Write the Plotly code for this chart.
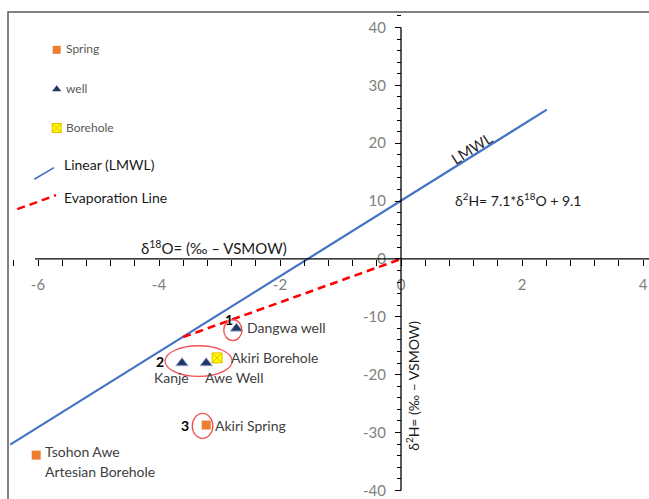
import plotly.graph_objects as go

# ---------------- data ----------------
spring_names = ["Akiri Spring", "Tsohon Awe Artesian Borehole"]
spring_o18 = [-3.22, -6.03]
spring_h2 = [-28.7, -33.9]

well_names = ["Dangwa well", "Kanje", "Awe Well"]
well_o18 = [-2.72, -3.62, -3.22]
well_h2 = [-12.0, -18.0, -18.0]

bore_names = ["Akiri Borehole"]
bore_o18 = [-3.04]
bore_h2 = [-17.1]

lmwl_o18 = [-6.46, 2.41]
lmwl_h2 = [-32.1, 25.8]

evap_o18 = [-3.6, 0.0]
evap_h2 = [-13.5, 0.0]

x_tick_vals = [-6, -4, -2, 0, 2, 4]
x_tick_text = ["-6", "-4", "-2", "0", "2", "4"]
y_tick_vals = [-40, -30, -20, -10, 0, 10, 20, 30, 40]
y_tick_text = ["-40", "-30", "-20", "-10", "0", "10", "20", "30", "40"]

# ---------------- layout constants ----------------
# body margin is removed by the post script, so the figure starts at (0, 0)
PAGE_OFF = 0
W, H = 669, 499
ML, MR, MT, MB = 8, 20, 12, 0
X_RANGE = [-6.496, 4.099]
Y_RANGE = [-41.14, 42.68]
FONT = "Lato, 'Open Sans', sans-serif"
GREY = "#7f7f7f"
TXT = "#404040"

x_axis_pos = (0 - Y_RANGE[0]) / (Y_RANGE[1] - Y_RANGE[0])
y_axis_pos = (0 - X_RANGE[0]) / (X_RANGE[1] - X_RANGE[0])

fig = go.Figure()

# trend lines
fig.add_trace(go.Scatter(x=lmwl_o18, y=lmwl_h2, mode="lines",
                         line=dict(color="#4472C4", width=2.2),
                         name="Linear (LMWL)", hoverinfo="skip"))
fig.add_trace(go.Scatter(x=evap_o18, y=evap_h2, mode="lines",
                         line=dict(color="#FF0000", width=2.6, dash="8px,5px"),
                         name="Evaporation Line", hoverinfo="skip"))

# samples
fig.add_trace(go.Scatter(x=spring_o18, y=spring_h2, mode="markers", name="Spring",
                         marker=dict(symbol="square", size=9, color="#ED7D31"),
                         text=spring_names, cliponaxis=False))
fig.add_trace(go.Scatter(x=well_o18, y=well_h2, mode="markers", name="well",
                         marker=dict(symbol="triangle-up", size=11, color="#1F3864",
                                     line=dict(color="rgba(170,190,225,0.9)", width=1)),
                         text=well_names))
fig.add_trace(go.Scatter(x=bore_o18, y=bore_h2, mode="markers", name="Borehole",
                         marker=dict(symbol="square-x", size=10, color="#FFFF00",
                                     line=dict(color="#E8B800", width=1)),
                         text=bore_names))

# ---------------- legend keys (window-pixel overlay axes) ----------------
fig.add_trace(go.Scatter(x=[56.7], y=[50], mode="markers", xaxis="x2", yaxis="y2",
                         marker=dict(symbol="square", size=8, color="#ED7D31"),
                         showlegend=False, hoverinfo="skip"))
fig.add_trace(go.Scatter(x=[56.7], y=[89.5], mode="markers", xaxis="x2", yaxis="y2",
                         marker=dict(symbol="triangle-up", size=8, color="#1F3864"),
                         showlegend=False, hoverinfo="skip"))
fig.add_trace(go.Scatter(x=[56.7], y=[128.5], mode="markers", xaxis="x2", yaxis="y2",
                         marker=dict(symbol="square-x", size=9, color="#FFFF00",
                                     line=dict(color="#E8B800", width=1)),
                         showlegend=False, hoverinfo="skip"))
fig.add_trace(go.Scatter(x=[34.3, 54], y=[180, 168.3], mode="lines", xaxis="x2", yaxis="y2",
                         line=dict(color="#4472C4", width=1.6),
                         showlegend=False, hoverinfo="skip"))
fig.add_trace(go.Scatter(x=[17.3, 56], y=[210, 196], mode="lines", xaxis="x2", yaxis="y2",
                         line=dict(color="#FF0000", width=2.4, dash="8px,5px"),
                         showlegend=False, hoverinfo="skip"))

legend_txt = [
    ("Spring", 64, 49, 12, "#595959"),
    ("well", 64, 88.5, 12, "#595959"),
    ("Borehole", 64, 127.5, 12, "#595959"),
    ("Linear (LMWL)", 61.5, 165, 14, "#1a1a1a"),
    ("Evaporation Line", 61.5, 198, 14, "#1a1a1a"),
]
annotations = []
for t, px, py, fs, col in legend_txt:
    annotations.append(dict(text=t, x=px, y=py, xref="x2", yref="y2", xanchor="left",
                            yanchor="middle", showarrow=False,
                            font=dict(family=FONT, size=fs, color=col)))

# ---------------- data labels ----------------
def lab(text, x, y, anchor="left", size=14, color=TXT, bold=False):
    if bold:
        text = "<b>" + text + "</b>"
    annotations.append(dict(text=text, x=x, y=y, xref="x", yref="y", xanchor=anchor,
                            yanchor="middle", showarrow=False,
                            font=dict(family=FONT, size=size, color=color)))

lab("1", -2.85, -10.45, "center", 14, "#000000", True)
lab("Dangwa well", -2.58, -11.9)
lab("2", -3.99, -17.7, "center", 14, "#000000", True)
lab("Akiri Borehole", -2.84, -17.1)
lab("Kanje", -3.80, -20.5, "center")
lab("Awe Well", -2.76, -20.5, "center")
lab("3", -3.57, -28.7, "center", 14, "#000000", True)
lab("Akiri Spring", -3.11, -28.7)
lab("Tsohon Awe", -5.91, -33.2)
lab("Artesian Borehole", -5.91, -36.8)

# line / axis texts
annotations.append(dict(text="LMWL", x=1.17, y=19.2, xref="x", yref="y", textangle=-32,
                        showarrow=False, font=dict(family=FONT, size=15, color="#262626")))
annotations.append(dict(text="δ<sup>2</sup>H= 7.1*δ<sup>18</sup>O + 9.1", x=1.94, y=10.3,
                        xref="x", yref="y", showarrow=False,
                        font=dict(family=FONT, size=14, color="#1a1a1a")))
annotations.append(dict(text="δ<sup>18</sup>O= (‰ – VSMOW)", x=-3.09, y=1.9,
                        xref="x", yref="y", showarrow=False,
                        font=dict(family=FONT, size=15, color="#1a1a1a")))
annotations.append(dict(text="δ<sup>2</sup>H= (‰ – VSMOW)", x=0.2, y=-21.9, textangle=-90,
                        xref="x", yref="y", showarrow=False,
                        font=dict(family=FONT, size=14, color="#1a1a1a")))

# ---------------- shapes ----------------
shapes = [
    # chart border
    dict(type="rect", xref="paper", yref="paper", x0=0, x1=1.02, y0=-0.01, y1=1,
         line=dict(color="#595959", width=1.5)),
    # axis lines through the origin
    dict(type="line", xref="x", yref="y", x0=-6.05, x1=4.1, y0=0, y1=0,
         line=dict(color="#000000", width=1.3)),
    dict(type="line", xref="x", yref="y", x0=0, x1=0, y0=-40, y1=40,
         line=dict(color="#000000", width=1.3)),
    # red circles
    dict(type="circle", xref="x", yref="y", x0=-2.93, x1=-2.63, y0=-14.1, y1=-10.5,
         line=dict(color="#F05050", width=1.3)),
    dict(type="circle", xref="x", yref="y", x0=-3.90, x1=-2.79, y0=-20.3, y1=-15.0,
         line=dict(color="#F05050", width=1.3)),
    dict(type="circle", xref="x", yref="y", x0=-3.45, x1=-3.11, y0=-31.0, y1=-26.7,
         line=dict(color="#F05050", width=1.3)),
]

fig.update_layout(
    width=W, height=H,
    margin=dict(l=ML, r=MR, t=MT, b=MB, pad=0),
    paper_bgcolor="white", plot_bgcolor="white",
    showlegend=False, hovermode=False,
    font=dict(family=FONT),
    xaxis=dict(range=X_RANGE, domain=[0, 1], anchor="free", position=x_axis_pos,
               side="bottom", showline=False, zeroline=False, showgrid=False,
               tickmode="array", tickvals=x_tick_vals, ticktext=x_tick_text,
               ticks="outside", ticklen=6, tickwidth=1, tickcolor="#000000",
               ticklabelstandoff=6, ticklabeloverflow="allow",
               tickfont=dict(family=FONT, size=15, color=GREY),
               minor=dict(tickmode="linear", tick0=0, dtick=0.4, ticks="outside",
                          ticklen=6, tickwidth=1, tickcolor="#000000", showgrid=False)),
    yaxis=dict(range=Y_RANGE, domain=[0, 1], anchor="free", position=y_axis_pos,
               side="left", showline=False, zeroline=False, showgrid=False,
               tickmode="array", tickvals=y_tick_vals, ticktext=y_tick_text,
               ticks="outside", ticklen=6, tickwidth=1, tickcolor="#000000",
               ticklabelstandoff=6, ticklabeloverflow="allow",
               tickfont=dict(family=FONT, size=15, color=GREY),
               minor=dict(tickmode="linear", tick0=0, dtick=2, ticks="outside",
                          ticklen=4, tickwidth=1, tickcolor="#000000", showgrid=False)),
    xaxis2=dict(range=[PAGE_OFF + ML, PAGE_OFF + W - MR], domain=[0, 1],
                overlaying="x", anchor="y2", visible=False),
    yaxis2=dict(range=[PAGE_OFF + H - MB, PAGE_OFF + MT], domain=[0, 1],
                overlaying="y", anchor="x2", visible=False),
    annotations=annotations,
    shapes=shapes,
)

fig.write_html(
    "out.html",
    config={"displayModeBar": False, "staticPlot": True},
    post_script="document.body.style.margin='0';"
                "document.documentElement.style.overflow='hidden';",
)
